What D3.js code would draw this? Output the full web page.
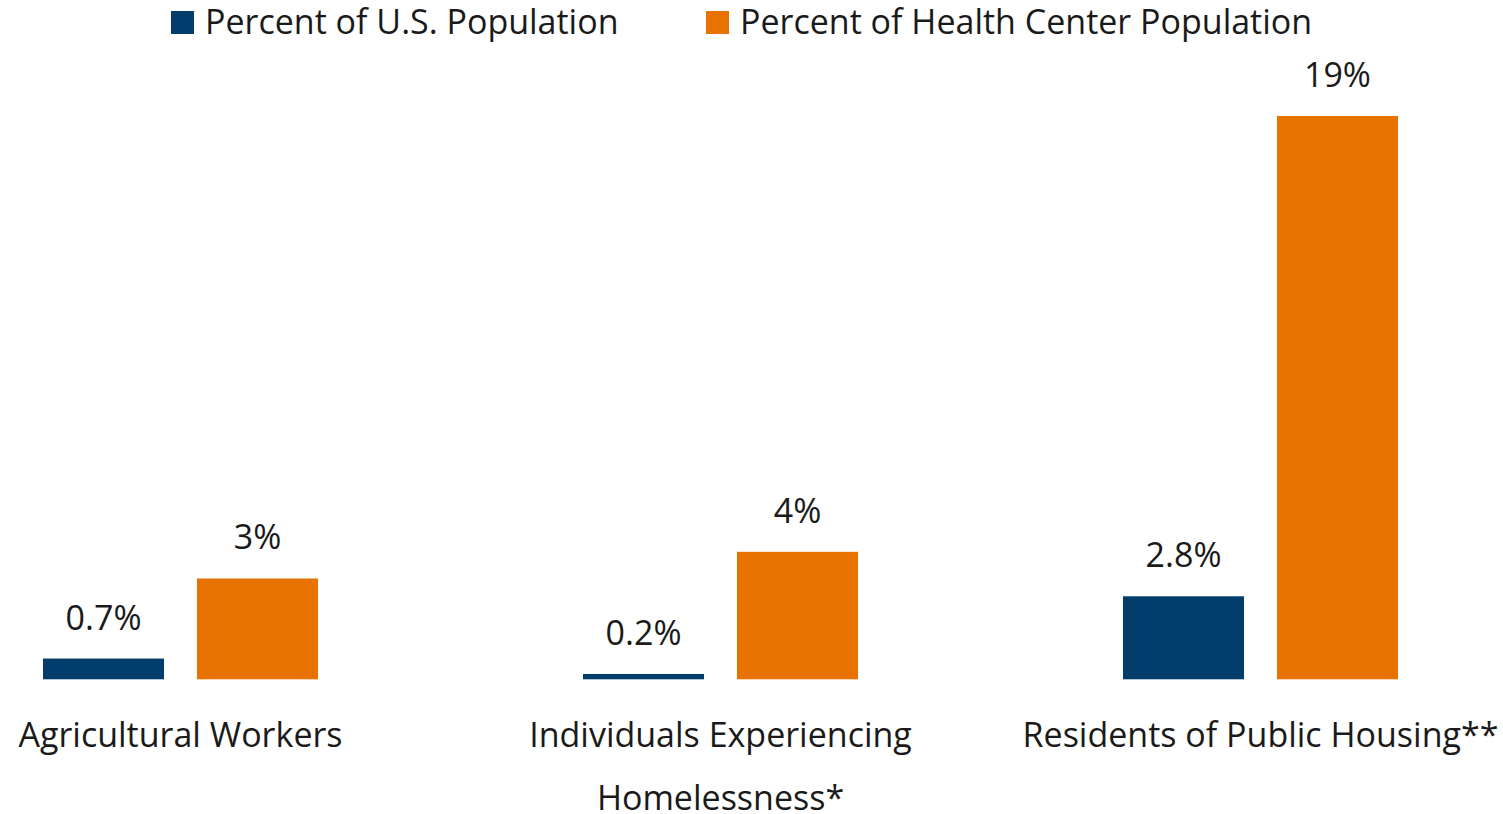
<!DOCTYPE html>
<html>
<head>
<meta charset="utf-8">
<script src="https://cdn.jsdelivr.net/npm/d3@7"></script>
<style>
  body { margin: 0; background: #fff; }
  text { font-family: "Open Sans", sans-serif; fill: #1a1a1a; }
</style>
</head>
<body>
<div id="chart"></div>
<script>
// data
const categories = ["Agricultural Workers", "Individuals Experiencing Homelessness*", "Residents of Public Housing**"]
const categoryLines = [["Agricultural Workers"], ["Individuals Experiencing", "Homelessness*"], ["Residents of Public Housing**"]]
const seriesNames = ["Percent of U.S. Population", "Percent of Health Center Population"]
const usValues = [0.7, 0.18, 2.8]
const hcValues = [3.4, 4.3, 19]
const usLabels = ["0.7%", "0.2%", "2.8%"]
const hcLabels = ["3%", "4%", "19%"]
const colors = ["#023d6b", "#e87200"]

const rows = categories.map((c, i) => ({
  category: c,
  lines: categoryLines[i],
  bars: [
    { series: seriesNames[0], value: usValues[i], label: usLabels[i] },
    { series: seriesNames[1], value: hcValues[i], label: hcLabels[i] },
  ]
}))

const dimensions = { width: 1503, height: 814, baseline: 679.3, top: 116 }

const svg = d3.select("#chart").append("svg")
  .attr("width", dimensions.width)
  .attr("height", dimensions.height)

// scales
const x0 = d3.scalePoint()
  .domain(categories)
  .range([180.5, 1260.5])

const x1 = d3.scaleBand()
  .domain(seriesNames)
  .range([-137.5, 137.5])
  .paddingInner(0.214)

const yScale = d3.scaleLinear()
  .domain([0, 19])
  .range([dimensions.baseline, dimensions.top])

const color = d3.scaleOrdinal().domain(seriesNames).range(colors)

// bars
const groups = svg.selectAll("g.group")
  .data(rows)
  .join("g")
    .attr("class", "group")
    .attr("transform", d => `translate(${x0(d.category)},0)`)

groups.selectAll("rect")
  .data(d => d.bars)
  .join("rect")
    .attr("x", d => x1(d.series))
    .attr("width", x1.bandwidth())
    .attr("y", d => yScale(d.value))
    .attr("height", d => yScale(0) - yScale(d.value))
    .attr("fill", d => color(d.series))

groups.selectAll("text.value")
  .data(d => d.bars)
  .join("text")
    .attr("class", "value")
    .attr("x", d => x1(d.series) + x1.bandwidth() / 2)
    .attr("y", d => yScale(d.value) - 29)
    .attr("text-anchor", "middle")
    .style("font-size", "34px")
    .text(d => d.label)

// category labels
groups.append("text")
    .attr("class", "cat")
    .attr("text-anchor", "middle")
    .style("font-size", "34px")
  .selectAll("tspan")
  .data(d => d.lines)
  .join("tspan")
    .attr("x", 0)
    .attr("y", (d, i) => 747.3 + i * 63)
    .text(d => d)

// legend
const legendX = [171, 706]
const legend = svg.selectAll("g.legend")
  .data(seriesNames)
  .join("g")
    .attr("class", "legend")
    .attr("transform", (d, i) => `translate(${legendX[i]},0)`)

legend.append("rect")
    .attr("x", 0)
    .attr("y", 11)
    .attr("width", 23)
    .attr("height", 23)
    .attr("fill", d => color(d))

legend.append("text")
    .attr("x", 34)
    .attr("y", 34.3)
    .style("font-size", "34px")
    .text(d => d)
</script>
</body>
</html>
